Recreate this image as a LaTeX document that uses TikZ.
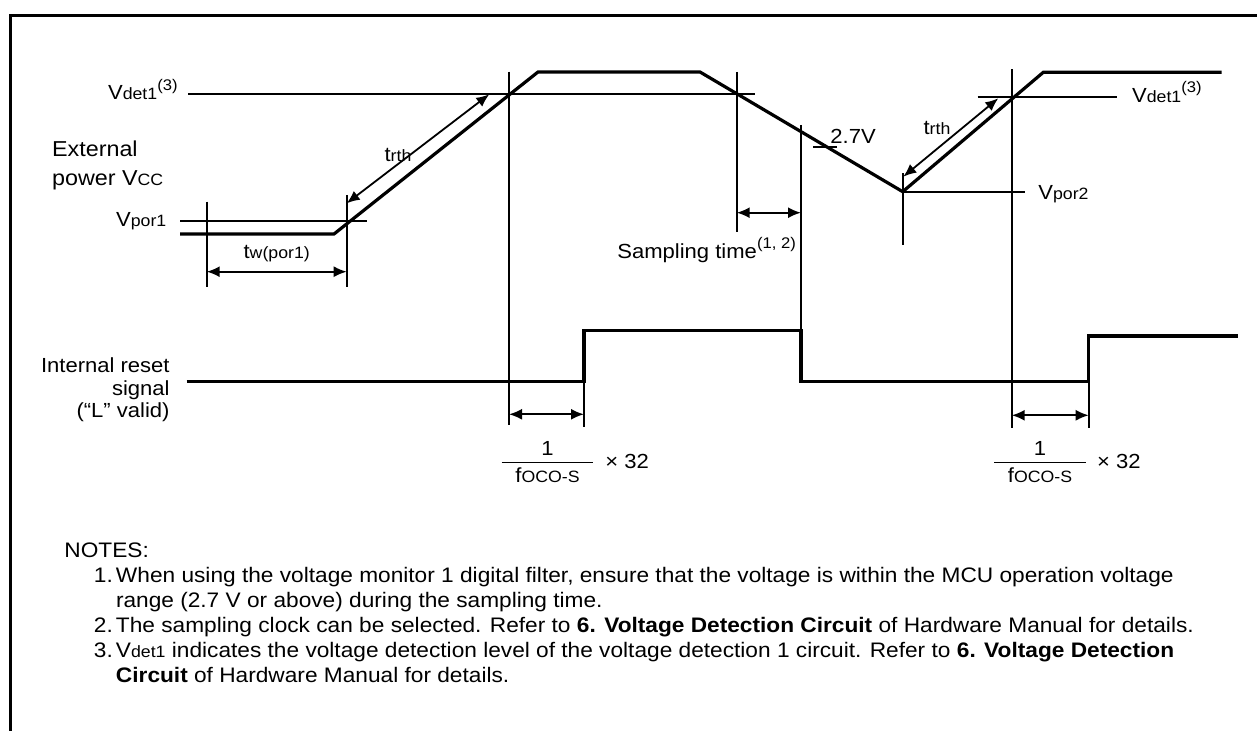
\documentclass[tikz,border=0pt]{standalone}
\usepackage{fontspec}
\setmainfont{Liberation Sans}[FakeStretch=1.08]
\usetikzlibrary{arrows.meta}
\newcommand{\lo}[1]{{\fontsize{8.2}{8.5}\selectfont #1}}
\newcommand{\hi}[1]{\raisebox{0.9ex}{\fontsize{7.7}{8}\selectfont #1}}

\begin{document}
\begin{tikzpicture}[x=0.5pt, y=-0.5pt, >={Latex[length=6.5pt,width=5.5pt]},
  thinl/.style={line width=0.9pt},
  wave/.style={line width=1.6pt},
  lbl/.style={inner sep=0pt, font=\fontsize{10.2}{11.25}\selectfont}]
\useasboundingbox (0,0) rectangle (1257,731);
% frame
\draw[line width=1.5pt] (10,731) -- (10,15.5) -- (1257,15.5);

% external power Vcc
\draw[wave] (180,234) -- (334,234) -- (538,72) -- (700,72) -- (902.7,191.7) -- (1043.3,72.3) -- (1221.7,72.3);
\draw[thinl] (188,94) -- (755,94);
\draw[thinl] (977.7,97.3) -- (1117.3,97.3);
\draw[thinl] (180,220.7) -- (366.7,220.7);
\draw[thinl] (902.7,191.7) -- (1025,191.7);
\draw[thinl] (813,146.7) -- (837,146.7);

% markers
\draw[thinl] (206.7,201.7) -- (206.7,286.7);
\draw[thinl] (346.7,195) -- (346.7,286.7);
\draw[thinl] (509,71.7) -- (509,425);
\draw[thinl] (736.7,72) -- (736.7,232);
\draw[thinl] (801,125) -- (801,331);
\draw[thinl] (902.7,173.3) -- (902.7,245);
\draw[thinl] (1011.7,69.3) -- (1011.7,427.7);
\draw[thinl] (584,381.7) -- (584,426.7);
\draw[thinl] (1088.7,381.7) -- (1088.7,427.7);

% intervals
\draw[thinl,<->] (206.7,271.7) -- (346.7,271.7);
\draw[thinl,<->] (346.7,203.3) -- (489.3,94.3);
\draw[thinl,<->] (903.3,176.7) -- (998.3,98.3);
\draw[thinl,<->] (736.7,212.7) -- (801,212.7);
\draw[thinl,<->] (509,414.3) -- (584,414.3);
\draw[thinl,<->] (1011.7,415.3) -- (1088.7,415.3);

% internal reset signal
\draw[wave] (186.7,381.7) -- (584,381.7) -- (584,330.7) -- (801,330.7) -- (801,381.7) -- (1088.7,381.7) -- (1088.7,336) -- (1237.7,336);

% labels
\node[lbl, anchor=base east] (vdetA) at (178,100) {V\lo{det1}\hi{(3)}};
\node[lbl, anchor=base west] (vdetB) at (1131.7,102.5) {V\lo{det1}\hi{(3)}};
\node[lbl, anchor=base east] (vporA) at (166.7,227) {V\lo{por1}};
\node[lbl, anchor=base west] (vporB) at (1038,199.3) {V\lo{por2}};
\node[lbl, align=left, anchor=north west, font=\fontsize{10.8}{14.5}\selectfont] (vcc) at (51.7,140.5) {External\\power V\lo{CC}};
\node[lbl, anchor=base] (twpor) at (276.7,258.3) {t\lo{w(por1)}};
\node[lbl, anchor=base] (trthA) at (398,161.5) {t\lo{rth}};
\node[lbl, anchor=base] (trthB) at (937,135) {t\lo{rth}};
\node[lbl, anchor=base west] (volt) at (830,143.3) {2.7V};
\node[lbl, anchor=base west] (samp) at (617,258.3) {Sampling time\hi{(1, 2)}};
\node[lbl, align=right, anchor=north east] (reset) at (170,357.5) {Internal reset\\signal\\(“L” valid)};

% clock counts
\node[lbl, anchor=base] (numA) at (547.5,456) {1};
\node[lbl, anchor=base] (denA) at (547.5,482.7) {f\lo{OCO-S}};
\draw[line width=0.5pt] (501.7,462.7) -- (593.3,462.7);
\node[lbl, anchor=base west] (mulA) at (605,468.3) {× 32};
\node[lbl, anchor=base] (numB) at (1040,456) {1};
\node[lbl, anchor=base] (denB) at (1040,482.7) {f\lo{OCO-S}};
\draw[line width=0.5pt] (994,462.7) -- (1086,462.7);
\node[lbl, anchor=base west] (mulB) at (1096.7,468.3) {× 32};

% notes
\node[lbl, align=left, anchor=north west, font=\fontsize{10.5}{12.5}\selectfont] (notes) at (64,542) {NOTES:\\
\hspace*{14.8pt}\makebox[11pt][l]{1.}When using the voltage monitor 1 digital filter, ensure that the voltage is within the MCU operation voltage\\
\hspace*{25.8pt}range (2.7 V or above) during the sampling time.\\
\hspace*{14.8pt}\makebox[11pt][l]{2.}The sampling clock can be selected. Refer to \textbf{6. Voltage Detection Circuit} of Hardware Manual for details.\\
\hspace*{14.8pt}\makebox[11pt][l]{3.}V\lo{det1} indicates the voltage detection level of the voltage detection 1 circuit. Refer to \textbf{6. Voltage Detection}\\
\hspace*{25.8pt}\textbf{Circuit} of Hardware Manual for details.};
\end{tikzpicture}
\end{document}
